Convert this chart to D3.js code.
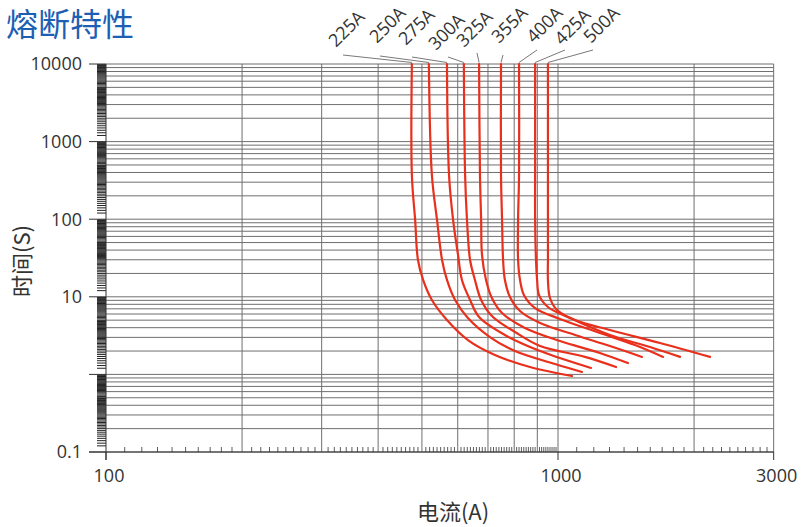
<!DOCTYPE html>
<html><head><meta charset="utf-8">
<script src="https://cdn.jsdelivr.net/npm/d3@7/dist/d3.min.js"></script>
<style>body{margin:0;background:#fff}svg{display:block}</style>
</head><body>
<svg id="c" width="802" height="527"></svg>
<script>
// ---------- data ----------
const ratings = ["225A","250A","275A","300A","325A","355A","400A","425A","500A"];
// [current (A), time (s)]
const c225 = [[475,10000],[475,371],[483,97.7],[490,29.8],[503,16.5],[526,9.09],[568,5.02],[632,2.77],[725,1.78],[867,1.245],[1074,0.954]];
const c250 = [[518,10000],[526,371],[540,97.7],[554,29.8],[568,16.5],[592,9.09],[632,5.33],[707,3.03],[803,2.0],[985,1.36],[1130,1.074]];
const c275 = [[568,10000],[574,371],[586,97.7],[601,34.6],[613,16.5],[639,9.09],[669,5.49],[763,3.22],[913,2.0],[1183,1.21]];
const c300 = [[619,10000],[623,371],[629,97.7],[639,29.8],[655,16.5],[676,9.09],[714,5.66],[803,3.52],[913,2.32],[1147,1.68],[1344,1.245]];
const c325 = [[669,10000],[672,371],[676,97.7],[679,34.6],[693,16.5],[714,9.65],[752,6.18],[845,3.96],[1010,2.69],[1238,1.89],[1428,1.40]];
const c355 = [[748,10000],[748,371],[752,97.7],[756,29.8],[763,16.5],[783,9.94],[824,6.56],[913,4.6],[1091,3.22],[1303,2.32],[1534,1.68]];
const c400 = [[820,10000],[820,371],[816,97.7],[816,29.8],[824,16.5],[841,10.5],[890,7.17],[1010,5.18],[1238,3.42],[1480,2.39],[1708,1.68]];
const c425 = [[890,10000],[890,371],[890,97.7],[894,29.8],[899,16.5],[908,10.5],[950,7.39],[1063,5.33],[1303,3.22],[1598,2.25],[1862,1.68]];
const c500 = [[950,10000],[950,371],[950,97.7],[950,29.8],[950,16.5],[960,9.65],[995,6.76],[1091,5.02],[1303,3.73],[1682,2.54],[2169,1.68]];
const curves = [c225,c250,c275,c300,c325,c355,c400,c425,c500];

const yTickLabels = [10000,1000,100,10,0.1];
const yMajorTicks = [10000,1000,100,10,1,0.1];
const xTickLabels = [100,1000,3000];
const xGrid = [200,300,400,500,600,700,800,900,1000,2000,3000];

const title = "熔断特性";
const xTitle = "电流(A)";
const yTitle = "时间(S)";

// label placement (annotation layout, px)
const labelAnchor = [[336,48],[377,44],[406,46],[436,51],[464,48],[499,44],[534,44],[562,46],[591,44]];
const leaderStart = [[343,55],[380,56],[412,57],[448,57],[477,53],[503,55],[537,50],[565,50],[593,50]];

// ---------- scales ----------
const x = d3.scaleLog().domain([100,3000]).range([106, 106 + 452*Math.log10(30)]);
const y = d3.scaleLog().domain([0.1,10000]).range([452,64]);

const svg = d3.select("#c");
const CJK = "'Noto Sans CJK SC','Noto Sans',sans-serif";
const NUM = "'Open Sans','Noto Sans',sans-serif";

// horizontal grid
const hGrid = [];
for (let e=-1;e<=3;e++) for (let k=1;k<=9;k++) hGrid.push(k*Math.pow(10,e));
hGrid.push(10000);
svg.append("g").selectAll("line").data(hGrid).join("line")
  .attr("x1",x(100)).attr("x2",x(3000))
  .attr("y1",d=>y(d)).attr("y2",d=>y(d))
  .attr("stroke","#6f6f6f").attr("stroke-width",1);

// vertical grid
svg.append("g").selectAll("line").data(xGrid).join("line")
  .attr("x1",d=>x(d)).attr("x2",d=>x(d))
  .attr("y1",y(10000)).attr("y2",y(0.1))
  .attr("stroke","#6f6f6f").attr("stroke-width",1);

// y ruler ticks (left)
const ruler = [];
for (let e=-1;e<=3;e++){
  const b = Math.pow(10,e);
  for (let m=1.2;m<5.001;m+=0.1) ruler.push(m*b);
  for (let m=5.2;m<9.999;m+=0.2) ruler.push(m*b);
}
svg.append("g").selectAll("line").data(ruler).join("line")
  .attr("x1",97).attr("x2",x(100))
  .attr("y1",d=>y(d)).attr("y2",d=>y(d))
  .attr("stroke","#222").attr("stroke-width",1);

// major y ticks
svg.append("g").selectAll("line").data(yMajorTicks).join("line")
  .attr("x1",89).attr("x2",x(100))
  .attr("y1",d=>y(d)).attr("y2",d=>y(d))
  .attr("stroke","#333").attr("stroke-width",1);

// x minor ticks
const xMinor = [];
for (let v=110; v<200; v+=10) xMinor.push(v);
for (let v=210; v<1000; v+=10) if (v%100!==0) xMinor.push(v);
for (let v=1100; v<3000; v+=100) if (v!==2000) xMinor.push(v);
svg.append("g").selectAll("line").data(xMinor).join("line")
  .attr("x1",d=>x(d)).attr("x2",d=>x(d))
  .attr("y1",y(0.1)).attr("y2",y(0.1)-5)
  .attr("stroke","#333").attr("stroke-width",0.8);

// axes lines
svg.append("line").attr("x1",x(100)).attr("x2",x(100)).attr("y1",y(10000)).attr("y2",460).attr("stroke","#333");
svg.append("line").attr("x1",89).attr("x2",x(3000)).attr("y1",y(0.1)).attr("y2",y(0.1)).attr("stroke","#333");
svg.append("g").selectAll("line").data(xTickLabels).join("line")
  .attr("x1",d=>x(d)).attr("x2",d=>x(d)).attr("y1",y(0.1)).attr("y2",460).attr("stroke","#333");

// tick labels
svg.append("g").selectAll("text").data(yTickLabels).join("text")
  .attr("x",82).attr("y",d=>y(d)).attr("dy","0.35em")
  .attr("text-anchor","end").attr("font-family",NUM).attr("font-size",18).attr("fill","#333")
  .text(d=>String(d));
svg.append("g").selectAll("text").data(xTickLabels).join("text")
  .attr("x",d=>x(d)+3).attr("y",476).attr("dy","0.35em")
  .attr("text-anchor","middle").attr("font-family",NUM).attr("font-size",18).attr("fill","#333")
  .text(d=>String(d));

// curves
const line = d3.line().x(d=>x(d[0])).y(d=>y(d[1])).curve(d3.curveCatmullRom.alpha(0.5));
svg.append("g").selectAll("path").data(curves).join("path")
  .attr("d",line).attr("fill","none").attr("stroke","#e8301c").attr("stroke-width",2.2)
  .attr("stroke-linecap","round");

// leaders + labels
svg.append("g").selectAll("line").data(curves).join("line")
  .attr("x1",(d,i)=>leaderStart[i][0]).attr("y1",(d,i)=>leaderStart[i][1])
  .attr("x2",d=>x(d[0][0])).attr("y2",y(10000)-1.5)
  .attr("stroke","#555").attr("stroke-width",0.8);
svg.append("g").selectAll("text").data(ratings).join("text")
  .attr("transform",(d,i)=>`translate(${labelAnchor[i][0]},${labelAnchor[i][1]}) rotate(-45)`)
  .attr("font-family",NUM).attr("font-size",18).attr("fill","#333").text(d=>d);

// titles
svg.append("text").attr("x",6).attr("y",36).attr("font-family",CJK).attr("font-size",32)
  .attr("fill","#1d5fb3").text(title);
svg.append("text").attr("x",453).attr("y",512).attr("dy","0.35em").attr("text-anchor","middle")
  .attr("font-family",CJK).attr("font-size",22).attr("fill","#333").text(xTitle);
svg.append("text").attr("transform","translate(22,261) rotate(-90)").attr("dy","0.35em")
  .attr("text-anchor","middle").attr("font-family",CJK).attr("font-size",22).attr("fill","#333").text(yTitle);
</script>
</body></html>
